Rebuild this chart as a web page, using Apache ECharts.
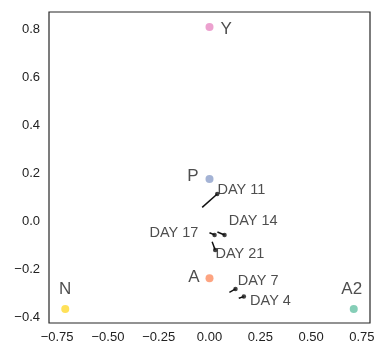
<!DOCTYPE html>
<html><head><meta charset="utf-8">
<script src="https://cdn.jsdelivr.net/npm/echarts@6/dist/echarts.min.js"></script>
<style>html,body{margin:0;padding:0;background:#fff}#c{width:378px;height:347px}</style>
</head><body><div id="c"></div>
<script>
// Reference points
const pointNames = ['Y', 'P', 'A', 'N', 'A2'];
const pointX = [0.0, 0.0, 0.0, -0.71, 0.71];
const pointY = [0.808, 0.175, -0.238, -0.367, -0.367];
// Day arrows (start -> end)
const dayNames = ['DAY 4', 'DAY 7', 'DAY 11', 'DAY 14', 'DAY 17', 'DAY 21'];
const dayStartX = [0.144, 0.098, -0.036, 0.039, 0.000, 0.013];
const dayStartY = [-0.322, -0.297, 0.057, -0.046, -0.049, -0.086];
const dayEndX = [0.169, 0.128, 0.038, 0.074, 0.025, 0.028];
const dayEndY = [-0.315, -0.283, 0.1125, -0.058, -0.058, -0.121];
// Tick labels
const xTicks = [-0.75, -0.50, -0.25, 0.00, 0.25, 0.50, 0.75];
const yTicks = [-0.4, -0.2, 0.0, 0.2, 0.4, 0.6, 0.8];

const pointColors = ['#e78ac3', '#8da0cb', '#fc8d62', '#ffd92f', '#66c2a5'];
const pointLabelStyle = {
  'Y':  {position: 'right', offset: [2, 2]},
  'P':  {position: 'left', offset: [-2, -3]},
  'A':  {position: 'left', offset: [-1, -1]},
  'N':  {position: 'top', offset: [0, -2]},
  'A2': {position: 'top', offset: [-2, -2]}
};
const dayLabelStyle = {
  'DAY 4':  {position: 'right', offset: [-1, 4]},
  'DAY 7':  {position: 'right', offset: [-5, -8]},
  'DAY 11': {position: 'right', offset: [-7, -4]},
  'DAY 14': {position: 'right', offset: [-3, -14]},
  'DAY 17': {position: 'left', offset: [-9, -2]},
  'DAY 21': {position: 'right', offset: [-7, 4]}
};

const chart = echarts.init(document.getElementById('c'));
const font = 'Liberation Sans, Arial, sans-serif';
const series = [];
series.push({
  type: 'scatter',
  symbolSize: 8,
  data: pointNames.map((n, i) => ({
    name: n, value: [pointX[i], pointY[i]],
    itemStyle: {color: pointColors[i]},
    label: Object.assign({show: true, formatter: n, fontSize: 17, color: '#222', fontFamily: font}, pointLabelStyle[n])
  })),
  z: 3
});
dayNames.forEach((n, i) => {
  series.push({
    type: 'line',
    data: [[dayStartX[i], dayStartY[i]], [dayEndX[i], dayEndY[i]]],
    showSymbol: false,
    symbol: 'none',
    lineStyle: {color: '#111', width: 1.5},
    silent: true, z: 4
  });
});
series.push({
  type: 'scatter',
  symbolSize: 4.5,
  itemStyle: {color: '#111'},
  data: dayNames.map((n, i) => ({
    name: n, value: [dayEndX[i], dayEndY[i]],
    label: Object.assign({show: true, formatter: n, fontSize: 14.5, color: '#222', fontFamily: font}, dayLabelStyle[n])
  })),
  z: 5
});

chart.setOption({
  animation: false,
  grid: {left: 49, right: 8, top: 12, bottom: 24, show: true, borderColor: '#262626', borderWidth: 1.2, containLabel: false},
  xAxis: {
    type: 'value', min: -0.79, max: 0.79,
    axisLine: {show: false}, axisTick: {show: false}, splitLine: {show: false},
    axisLabel: {customValues: xTicks, formatter: v => (v < 0 ? '\u2212' : '') + Math.abs(v).toFixed(2), fontSize: 13, color: '#222', fontFamily: font, margin: 8}
  },
  yAxis: {
    type: 'value', min: -0.425, max: 0.871,
    axisLine: {show: false}, axisTick: {show: false}, splitLine: {show: false},
    axisLabel: {customValues: yTicks, formatter: v => (v < 0 ? '\u2212' : '') + Math.abs(v).toFixed(1), fontSize: 13, color: '#222', fontFamily: font, margin: 9}
  },
  series: series
});
</script></body></html>
